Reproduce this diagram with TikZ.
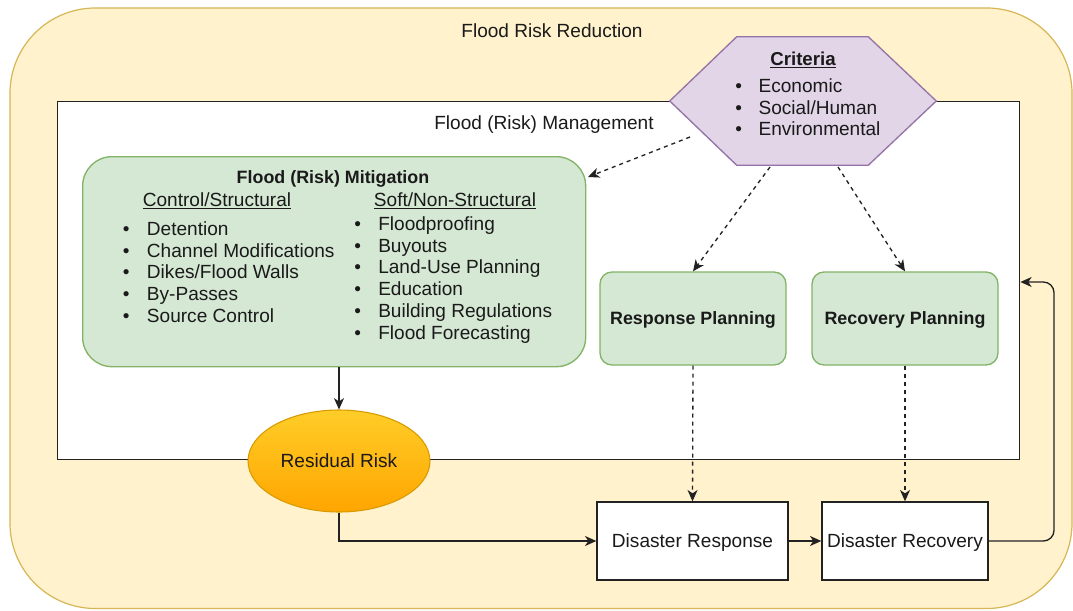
\documentclass[tikz,border=0pt]{standalone}
\usepackage{fontspec}
\setmainfont{Liberation Sans}
\usetikzlibrary{shapes.geometric,arrows.meta,calc}
\definecolor{outerfill}{HTML}{FFF2CC}
\definecolor{outerdraw}{HTML}{D6B656}
\definecolor{greenfill}{HTML}{D5E8D4}
\definecolor{greendraw}{HTML}{82B366}
\definecolor{purplefill}{HTML}{E1D5E7}
\definecolor{purpledraw}{HTML}{9673A6}
\definecolor{orangetop}{HTML}{FFCD28}
\definecolor{orangebot}{HTML}{FFA500}
\definecolor{orangedraw}{HTML}{D79B00}
\definecolor{txt}{HTML}{1A1A1A}
\definecolor{linec}{HTML}{222222}
\begin{document}
\begin{tikzpicture}[x=0.75pt,y=-0.75pt,
  every node/.style={text=txt},
  reg/.style={font=\fontsize{14.3}{16.3}\selectfont},
  bld/.style={font=\fontsize{13.4}{16}\selectfont\bfseries},
  greenbox/.style={draw=greendraw, fill=greenfill, line width=1pt, rounded corners=9pt},
  plainbox/.style={draw=linec, fill=white, line width=1pt},
  arr/.style={-{Stealth[length=8.5pt,width=7.5pt,inset=2.5pt]}, line width=1pt, draw=linec},
  dsh/.style={dash pattern=on 3pt off 3pt},
  listnode/.style={reg, anchor=north west, inner sep=0pt}
]
\useasboundingbox (0,0) rectangle (1073,610);
% outer container
\draw[fill=outerfill, draw=outerdraw, line width=0.9pt, rounded corners=64pt] (10,8) rectangle (1072,608.5);
\node[reg] (frr) at (552,31) {Flood Risk Reduction};
% management container
\node[plainbox, minimum width=962*0.75pt, minimum height=358*0.75pt, anchor=north west, inner sep=0pt] (mgmt) at (57,101) {};
\node[reg] (frm) at (544,125) {Flood (Risk) Management};
% criteria hexagon
\node[minimum width=266*0.75pt, minimum height=128*0.75pt, inner sep=0pt] (crit) at (803,101) {};
\draw[fill=purplefill, draw=purpledraw, line width=1pt]
  (crit.west) -- ($(crit.north west)+(67,0)$) -- ($(crit.north east)+(-68,0)$)
  -- (crit.east) -- ($(crit.south east)+(-68,0)$) -- ($(crit.south west)+(67,0)$) -- cycle;
\node[font=\fontsize{14}{16}\selectfont\bfseries] (crittitle) at (803,60) {\underline{Criteria}};
\node[listnode] (critlist) at (735,77) {\begin{tabular}{@{}l@{\hspace{12.5pt}}l@{}}• & Economic\\ • & Social/Human\\ • & Environmental\end{tabular}};
% mitigation box
\node[greenbox, rounded corners=22pt, minimum width=503*0.75pt, minimum height=210*0.75pt, anchor=north west] (mit) at (82,156) {};
\node[bld] (mittitle) at (333,179) {Flood (Risk) Mitigation};
\node[reg] (ctrl) at (217,201) {\underline{Control/Structural}};
\node[reg] (soft) at (455,201) {\underline{Soft/Non-Structural}};
\node[listnode] (ctrllist) at (122.7,220) {\begin{tabular}{@{}l@{\hspace{13pt}}l@{}}• & Detention\\ • & Channel Modifications\\ • & Dikes/Flood Walls\\ • & By-Passes\\ • & Source Control\end{tabular}};
\node[listnode] (softlist) at (354,215) {\begin{tabular}{@{}l@{\hspace{13pt}}l@{}}• & Floodproofing\\ • & Buyouts\\ • & Land-Use Planning\\ • & Education\\ • & Building Regulations\\ • & Flood Forecasting\end{tabular}};
% planning boxes
\node[greenbox, bld, minimum width=186*0.75pt, minimum height=93*0.75pt, text height=9.6pt, text depth=0pt] (resp) at (693,318.5) {Response Planning};
\node[greenbox, bld, minimum width=186*0.75pt, minimum height=93*0.75pt, text height=9.6pt, text depth=0pt] (recp) at (905,318.5) {Recovery Planning};
% residual risk
\node[ellipse, draw=orangedraw, line width=0.8pt, top color=orangetop, bottom color=orangebot, minimum width=182*0.75pt, minimum height=102*0.75pt, inner sep=0pt, reg] (res) at (339,461) {Residual Risk};
% disaster boxes
\node[plainbox, reg, minimum width=191*0.75pt, minimum height=78*0.75pt, text height=10.2pt, text depth=0pt] (drsp) at (692.5,541) {Disaster Response};
\node[plainbox, reg, minimum width=166*0.75pt, minimum height=78*0.75pt, inner sep=1pt, text height=10.2pt, text depth=0pt] (drec) at (905,541) {Disaster Recovery};
% connectors
\coordinate (c1) at (690,137);
\coordinate (m1) at (588,177);
\coordinate (c2) at (770,167);
\coordinate (c3) at (838,167);
\coordinate (lp) at (1054,282);
\draw[arr,dsh] (c1) -- (m1);
\draw[arr,dsh] (c2) -- (resp.north);
\draw[arr,dsh] (c3) -- (recp.north);
\draw[arr] (mit.south -| res.north) -- (res.north);
\draw[arr] (res.south) |- (drsp.west);
\draw[arr,dsh] (resp.south) -- (drsp.north);
\draw[arr,dsh] (recp.south) -- (drec.north);
\draw[arr] (drsp) -- (drec);
\draw[arr, rounded corners=8pt] (drec.east) -| (lp) -- (mgmt.east |- lp);
\end{tikzpicture}
\end{document}
